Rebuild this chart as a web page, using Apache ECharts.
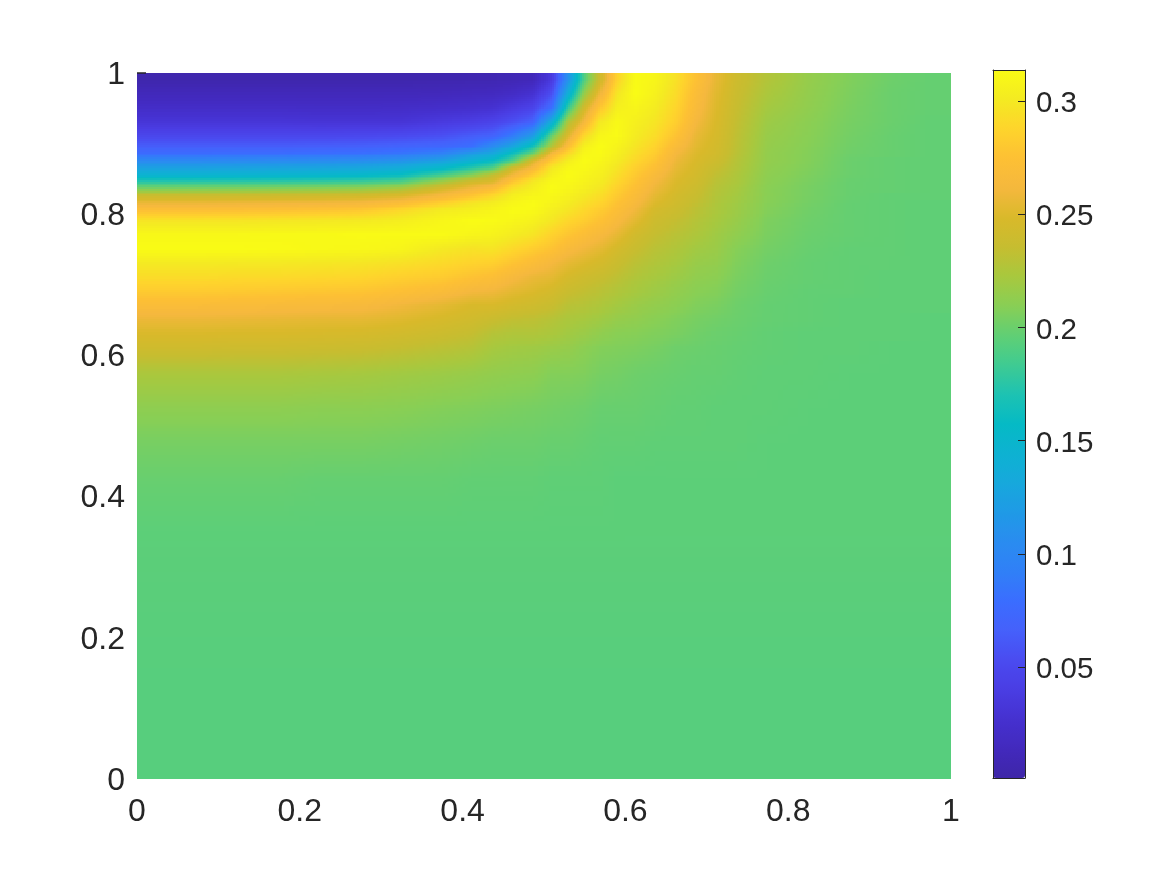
<!DOCTYPE html>
<html>
<head>
<meta charset="utf-8">
<style>html,body{margin:0;padding:0;background:#fff}#c{width:1167px;height:875px}</style>
<script src="https://cdn.jsdelivr.net/npm/echarts@6/dist/echarts.min.js"></script>
</head>
<body>
<div id="c"></div>
<script>
const xEdges = [0,.05,.1,.15,.2,.25,.3,.35,.4,.425,.45,.475,.5,.52,.54,.56,.58,.6,.625,.65,.675,.7,.725,.75,.8,.85,.9,.95,1];
const yEdges = [1,.98,.96,.94,.92,.9,.89,.88,.87,.86,.85,.84,.83,.82,.81,.8,.78,.76,.74,.72,.7,.68,.66,.64,.62,.6,.55,.5,.45,.4,.3,.2,.1,0];
const xTicks = [0,.2,.4,.6,.8,1];
const colorbarTicks = [.05,.1,.15,.2,.25,.3];
const colorbarMin = 0.001, colorbarMax = 0.3137;
// one list per column, left to right; each list runs from the top row to the bottom row
const col01 = [.004,.012,.021,.032,.049,.065,.078,.103,.125,.146,.175,.207,.24,.257,.273,.298,.311,.314,.301,.292,.282,.269,.257,.249,.241,.224,.212,.204,.199,.195,.194,.193,.193];
const col02 = [.004,.012,.021,.032,.049,.065,.078,.103,.125,.146,.176,.208,.24,.257,.273,.298,.311,.314,.301,.292,.282,.269,.257,.249,.241,.224,.212,.204,.199,.195,.194,.193,.193];
const col03 = [.004,.012,.021,.032,.049,.065,.079,.104,.126,.147,.177,.209,.241,.258,.274,.298,.311,.314,.300,.291,.281,.268,.256,.248,.240,.224,.212,.204,.199,.195,.194,.193,.193];
const col04 = [.004,.012,.021,.032,.049,.065,.079,.105,.127,.148,.178,.211,.242,.259,.275,.299,.312,.313,.300,.291,.280,.267,.255,.248,.240,.224,.212,.204,.199,.195,.194,.193,.193];
const col05 = [.004,.012,.020,.031,.049,.066,.080,.106,.128,.150,.180,.213,.243,.260,.277,.300,.312,.312,.299,.290,.279,.266,.254,.247,.239,.223,.211,.204,.198,.195,.194,.193,.193];
const col06 = [.004,.012,.020,.031,.050,.067,.081,.108,.130,.153,.183,.216,.245,.262,.280,.301,.313,.311,.298,.289,.278,.265,.254,.246,.238,.222,.211,.204,.198,.195,.194,.193,.193];
const col07 = [.004,.012,.021,.031,.052,.07,.085,.113,.136,.16,.19,.225,.25,.27,.29,.304,.313,.309,.295,.285,.274,.26,.251,.243,.235,.22,.21,.203,.198,.195,.194,.193,.193];
const col08 = [.005,.013,.023,.037,.056,.073,.095,.125,.153,.185,.22,.248,.265,.285,.302,.31,.313,.30,.291,.282,.269,.254,.246,.239,.231,.218,.208,.202,.198,.195,.194,.193,.193];
const col09 = [.006,.015,.025,.041,.064,.08,.12,.145,.175,.208,.244,.262,.279,.298,.305,.314,.309,.296,.287,.276,.262,.248,.242,.235,.228,.216,.207,.201,.197,.195,.194,.193,.193];
const col10 = [.007,.016,.028,.046,.069,.105,.133,.16,.19,.234,.25,.273,.291,.303,.309,.313,.307,.297,.285,.272,.26,.248,.237,.228,.222,.214,.206,.2,.197,.195,.194,.193,.193];
const col11 = [.009,.02,.037,.056,.09,.13,.165,.19,.243,.26,.28,.296,.305,.31,.314,.31,.302,.29,.277,.264,.254,.244,.233,.226,.22,.213,.205,.2,.197,.195,.194,.193,.193];
const col12 = [.012,.028,.046,.069,.12,.167,.2,.248,.265,.283,.30,.305,.31,.314,.312,.306,.297,.283,.27,.257,.25,.241,.232,.226,.219,.212,.204,.2,.197,.195,.194,.193,.193];
const col13 = [.038,.056,.08,.14,.2,.228,.265,.283,.30,.306,.312,.314,.311,.308,.304,.298,.286,.276,.262,.254,.245,.237,.228,.224,.217,.208,.203,.199,.196,.195,.194,.193,.193];
const col14 = [.11,.14,.18,.225,.25,.272,.29,.304,.311,.314,.312,.309,.306,.302,.298,.289,.278,.266,.255,.246,.238,.23,.224,.22,.215,.208,.202,.199,.196,.195,.194,.193,.193];
const col15 = [.19,.215,.243,.262,.29,.306,.311,.314,.312,.309,.307,.304,.30,.295,.29,.283,.271,.26,.25,.241,.234,.228,.222,.217,.211,.207,.201,.198,.196,.195,.194,.193,.193];
const col16 = [.242,.26,.28,.30,.31,.314,.313,.31,.307,.305,.302,.298,.293,.288,.282,.275,.264,.254,.245,.237,.23,.225,.219,.213,.208,.204,.199,.197,.196,.195,.194,.193,.193];
const col17 = [.287,.298,.305,.312,.313,.308,.305,.302,.298,.294,.29,.285,.281,.276,.272,.265,.255,.245,.238,.232,.226,.221,.215,.21,.207,.203,.199,.197,.195,.195,.194,.193,.193];
const col18 = [.313,.314,.309,.305,.302,.298,.294,.29,.285,.281,.277,.273,.269,.265,.26,.253,.243,.237,.231,.226,.222,.217,.213,.209,.206,.201,.199,.197,.195,.195,.194,.193,.193];
const col19 = [.309,.306,.302,.298,.293,.287,.283,.278,.273,.267,.262,.258,.254,.25,.245,.24,.235,.23,.226,.222,.218,.214,.21,.207,.204,.2,.198,.196,.195,.195,.194,.193,.193];
const col20 = [.295,.292,.288,.284,.276,.268,.262,.258,.255,.252,.249,.247,.244,.242,.239,.235,.23,.226,.222,.218,.214,.211,.207,.205,.201,.199,.197,.196,.195,.195,.194,.193,.193];
const col21 = [.275,.27,.267,.262,.256,.253,.25,.248,.246,.244,.242,.239,.237,.234,.231,.228,.225,.22,.216,.213,.21,.207,.204,.202,.2,.198,.197,.196,.195,.195,.194,.193,.193];
const col22 = [.255,.252,.25,.248,.246,.244,.243,.24,.236,.233,.23,.228,.227,.225,.224,.222,.219,.217,.214,.211,.208,.205,.202,.2,.199,.198,.196,.196,.195,.195,.194,.193,.193];
const col23 = [.24,.238,.236,.234,.232,.231,.23,.228,.227,.225,.224,.222,.221,.219,.218,.216,.213,.209,.207,.205,.203,.201,.2,.199,.198,.197,.196,.196,.195,.195,.194,.193,.193];
const col24 = [.227,.224,.221,.218,.216,.215,.214,.214,.213,.212,.211,.21,.21,.209,.208,.206,.205,.203,.201,.2,.199,.198,.198,.197,.197,.196,.196,.195,.195,.195,.194,.193,.193];
const col25 = [.215,.214,.213,.211,.21,.209,.208,.208,.207,.206,.205,.204,.204,.203,.202,.201,.2,.199,.198,.198,.197,.197,.197,.196,.196,.196,.195,.195,.195,.195,.194,.193,.193];
const col26 = [.207,.206,.205,.204,.203,.202,.201,.2,.2,.2,.199,.199,.199,.198,.198,.198,.198,.197,.197,.197,.197,.196,.196,.196,.196,.195,.195,.195,.195,.195,.194,.193,.193];
const col27 = [.201,.2,.2,.2,.199,.199,.199,.198,.198,.198,.198,.198,.197,.197,.197,.197,.197,.197,.197,.196,.196,.196,.196,.196,.195,.195,.195,.195,.195,.195,.194,.193,.193];
const col28 = [.198,.198,.198,.197,.197,.197,.197,.197,.197,.197,.197,.197,.197,.196,.196,.196,.196,.196,.196,.196,.196,.196,.195,.195,.195,.195,.195,.195,.195,.195,.194,.193,.193];
const columns = [col01,col02,col03,col04,col05,col06,col07,col08,col09,col10,col11,col12,col13,col14,col15,col16,col17,col18,col19,col20,col21,col22,col23,col24,col25,col26,col27,col28];
const palette = ['#3e26a8','#4229bd','#4531d0','#4a3de3','#4a4bf0','#4560fb','#3a6dff','#3080f7','#2a8cf0','#1f9ae6','#17a8dc','#0db2d2','#05bac5','#1dc2b2','#3fcb92','#60cf75','#88cf55','#a8c83e','#c6bd30','#d9b92a','#f5b83e','#fdc034','#fed42c','#f4ea22','#f9fb15'];

const cells = [];
columns.forEach((col, i) => col.forEach((v, j) => {
  cells.push([xEdges[i], xEdges[i + 1], yEdges[j + 1], yEdges[j], v, i, j]);
}));

// The reference uses interpolated shading: each read value sits at its cell centre
// and is shaded towards its neighbours when the cell is painted.
const nCols = columns.length, nRows = col01.length;
const xMid = columns.map((c, i) => (xEdges[i] + xEdges[i + 1]) / 2);
const yMid = col01.map((c, j) => (yEdges[j] + yEdges[j + 1]) / 2);
function shade(x, y, i, j) {
  const i0 = x < xMid[i] ? Math.max(i - 1, 0) : i, i1 = Math.min(i0 + 1, nCols - 1);
  const j0 = y > yMid[j] ? Math.max(j - 1, 0) : j, j1 = Math.min(j0 + 1, nRows - 1);
  const fx = i1 > i0 ? Math.min(1, Math.max(0, (x - xMid[i0]) / (xMid[i1] - xMid[i0]))) : 0;
  const fy = j1 > j0 ? Math.min(1, Math.max(0, (yMid[j0] - y) / (yMid[j0] - yMid[j1]))) : 0;
  const top = columns[i0][j0] * (1 - fx) + columns[i1][j0] * fx;
  const bottom = columns[i0][j1] * (1 - fx) + columns[i1][j1] * fx;
  return top * (1 - fy) + bottom * fy;
}
function spread(i, j) {
  let lo = Infinity, hi = -Infinity;
  for (let a = Math.max(i - 1, 0); a <= Math.min(i + 1, nCols - 1); a++)
    for (let b = Math.max(j - 1, 0); b <= Math.min(j + 1, nRows - 1); b++) {
      lo = Math.min(lo, columns[a][b]); hi = Math.max(hi, columns[a][b]);
    }
  return hi - lo;
}
const tone = v => echarts.color.lerp(Math.min(1, Math.max(0, (v - colorbarMin) / (colorbarMax - colorbarMin))), palette);

const ink = '#262626';
const font = {fontFamily: '"Liberation Sans", Arial, sans-serif', fontSize: 32, color: ink};
const barFont = {fontFamily: '"Liberation Sans", Arial, sans-serif', fontSize: 29.5, color: ink};
const chart = echarts.init(document.getElementById('c'), null, {renderer: 'canvas'});
chart.setOption({
  animation: false,
  backgroundColor: '#fff',
  tooltip: {show: false},
  grid: [
    {left: 137, top: 73, width: 814, height: 706, containLabel: false},
    {left: 993, top: 70, width: 32, height: 708, containLabel: false}
  ],
  xAxis: [
    {type: 'value', gridIndex: 0, min: 0, max: 1, interval: .2, splitLine: {show: false},
     axisLine: {show: false}, axisTick: {show: false},
     axisLabel: {...font, margin: 17, showMinLabel: true, showMaxLabel: true, hideOverlap: false}},
    {type: 'value', gridIndex: 1, position: 'bottom', min: 0, max: 1, z: 10, splitLine: {show: false},
     axisLine: {show: true, onZero: false, lineStyle: {color: ink, width: 1}}, axisTick: {show: false}, axisLabel: {show: false}},
    {type: 'value', gridIndex: 1, position: 'top', min: 0, max: 1, z: 10, splitLine: {show: false},
     axisLine: {show: true, onZero: false, lineStyle: {color: ink, width: 1}}, axisTick: {show: false}, axisLabel: {show: false}}
  ],
  yAxis: [
    {type: 'value', gridIndex: 0, min: 0, max: 1, interval: .2, z: 10, splitLine: {show: false},
     axisLine: {show: false},
     axisTick: {show: true, inside: true, length: 9, customValues: [1], lineStyle: {color: ink, width: 1.5}},
     axisLabel: {...font, margin: 12, verticalAlign: 'top', lineHeight: 4, showMinLabel: true, showMaxLabel: true, hideOverlap: false}},
    {type: 'value', gridIndex: 1, position: 'right', min: colorbarMin, max: colorbarMax, z: 10, splitLine: {show: false},
     axisLine: {show: true, onZero: false, lineStyle: {color: ink, width: 1}},
     axisTick: {show: true, inside: true, length: 7, customValues: colorbarTicks, lineStyle: {color: ink, width: 1}},
     axisLabel: {...barFont, margin: 11, verticalAlign: 'top', lineHeight: 6, customValues: colorbarTicks, formatter: v => String(v), hideOverlap: false}},
    {type: 'value', gridIndex: 1, position: 'left', min: colorbarMin, max: colorbarMax, z: 10, splitLine: {show: false},
     axisLine: {show: true, onZero: false, lineStyle: {color: ink, width: 1}}, axisTick: {show: false}, axisLabel: {show: false}}
  ],
  visualMap: {
    type: 'continuous', show: true, seriesIndex: 0, dimension: 4,
    min: colorbarMin, max: colorbarMax, calculable: false, realtime: false, hoverLink: false,
    showLabel: false, text: null, left: 993, top: 70, itemWidth: 32, itemHeight: 708, padding: 0,
    inRange: {color: palette}
  },
  series: [{
    type: 'custom',
    xAxisIndex: 0, yAxisIndex: 0,
    coordinateSystem: 'cartesian2d',
    silent: true,
    clip: true,
    progressive: 0,
    encode: {x: [0, 1], y: [2, 3]},
    data: cells,
    renderItem(params, api) {
      const x0 = api.value(0), x1 = api.value(1), y0 = api.value(2), y1 = api.value(3);
      const i = api.value(5), j = api.value(6);
      const a = api.coord([x0, y1]), b = api.coord([x1, y0]);
      const s = spread(i, j);
      const step = s > .02 ? 2 : s > .006 ? 3 : s > .002 ? 5 : 10;
      const nx = Math.max(1, Math.round((b[0] - a[0]) / step));
      const ny = Math.max(1, Math.round((b[1] - a[1]) / step));
      const children = [];
      for (let p = 0; p < nx; p++) {
        const l = Math.floor(a[0] + (b[0] - a[0]) * p / nx), r = Math.ceil(a[0] + (b[0] - a[0]) * (p + 1) / nx);
        const x = x0 + (x1 - x0) * (p + .5) / nx;
        for (let q = 0; q < ny; q++) {
          const t = Math.floor(a[1] + (b[1] - a[1]) * q / ny), d = Math.ceil(a[1] + (b[1] - a[1]) * (q + 1) / ny);
          const y = y1 + (y0 - y1) * (q + .5) / ny;
          children.push({type: 'rect', shape: {x: l, y: t, width: r - l, height: d - t}, style: {fill: tone(shade(x, y, i, j))}});
        }
      }
      return {type: 'group', children};
    }
  }]
});
</script>
</body>
</html>
